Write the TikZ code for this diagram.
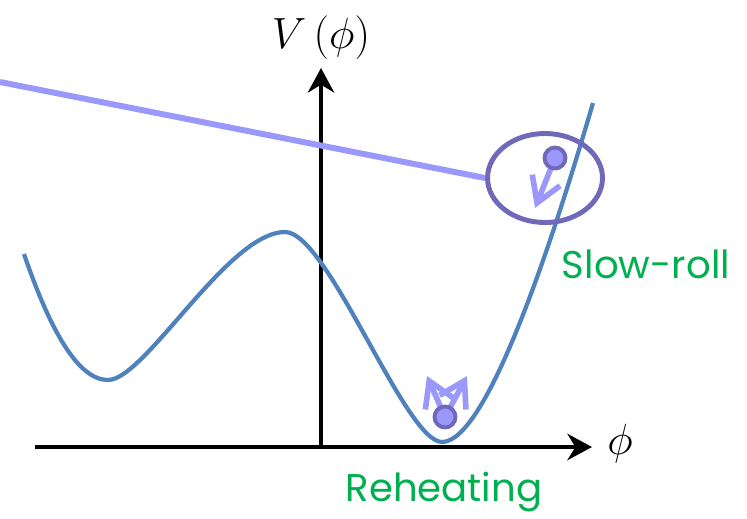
\documentclass[tikz,border=0pt]{standalone}
\usepackage{fontspec}
\setsansfont{Poppins}
\usetikzlibrary{arrows.meta,shapes.geometric,positioning}
\definecolor{curveblue}{HTML}{4F81BD}
\definecolor{lightlav}{HTML}{9A98FA}
\definecolor{darklav}{HTML}{7068B8}
\definecolor{labelgreen}{HTML}{00B050}

\begin{document}
\begin{tikzpicture}[x=0.02cm, y=-0.02cm,
  axis/.style={line width=2.3pt, -{Stealth[length=14pt,width=15pt]}},
  pot/.style={line width=2.4pt, curveblue},
  ball/.style={circle, draw=darklav, fill=lightlav, line width=2.2pt,
               minimum size=0.42cm, inner sep=0pt},
  kick/.style={line width=3.2pt, lightlav, -{Straight Barb[length=14pt,width=17pt]}},
  tag/.style={font=\sffamily\fontsize{22}{26}\selectfont, text=labelgreen},
  font=\fontsize{29}{34}\selectfont
]
\useasboundingbox (0,0) rectangle (747,518);

% ======= Axes =======
\coordinate (origin) at (321,447);
\coordinate (xstart) at (35,447);
\coordinate (xend)   at (592,447);
\coordinate (yend)   at (321,68);
\draw[axis] (xstart) -- (xend);
\draw[axis] (origin) -- (yend);
\node (phi)  at (620,444) {$\phi$};
\node[font=\fontsize{33}{38}\selectfont] (vphi) at (321,38) {$V\left(\phi\right)$};

% ======= Potential =======
\draw[pot] (24,254) .. controls (50,330) and (78,380) .. (108,380)
  .. controls (145,380) and (228,232) .. (285,232)
  .. controls (328,232) and (405,442) .. (442,442)
  .. controls (486,442) and (550,250) .. (593,103);

% ======= Slow-roll zone =======
\node[ellipse, draw=darklav, line width=2.8pt, minimum width=2.3cm,
      minimum height=1.78cm, inner sep=0pt] (zoom) at (545,178) {};
\coordinate (lstart) at (0,82);
\draw[lightlav, line width=3.4pt] (lstart) -- (zoom.west);
\coordinate (topball) at (555,158);
\coordinate (toptip)  at (535,208);
\draw[kick] (topball) -- (toptip);
\node[ball] (slowball) at (topball) {};
\node[tag] (slowroll) at (646,264) {Slow-roll};

% ======= Reheating zone =======
\coordinate (lowball) at (445,417);
\coordinate (lefttip)  at (427,376);
\coordinate (righttip) at (467,376);
\draw[kick] (lowball) -- (lefttip);
\draw[kick] (lowball) -- (righttip);
\node[ball] (reball) at (lowball) {};
\node[tag] (reheat) at (444,492) {Reheating};

\end{tikzpicture}
\end{document}
